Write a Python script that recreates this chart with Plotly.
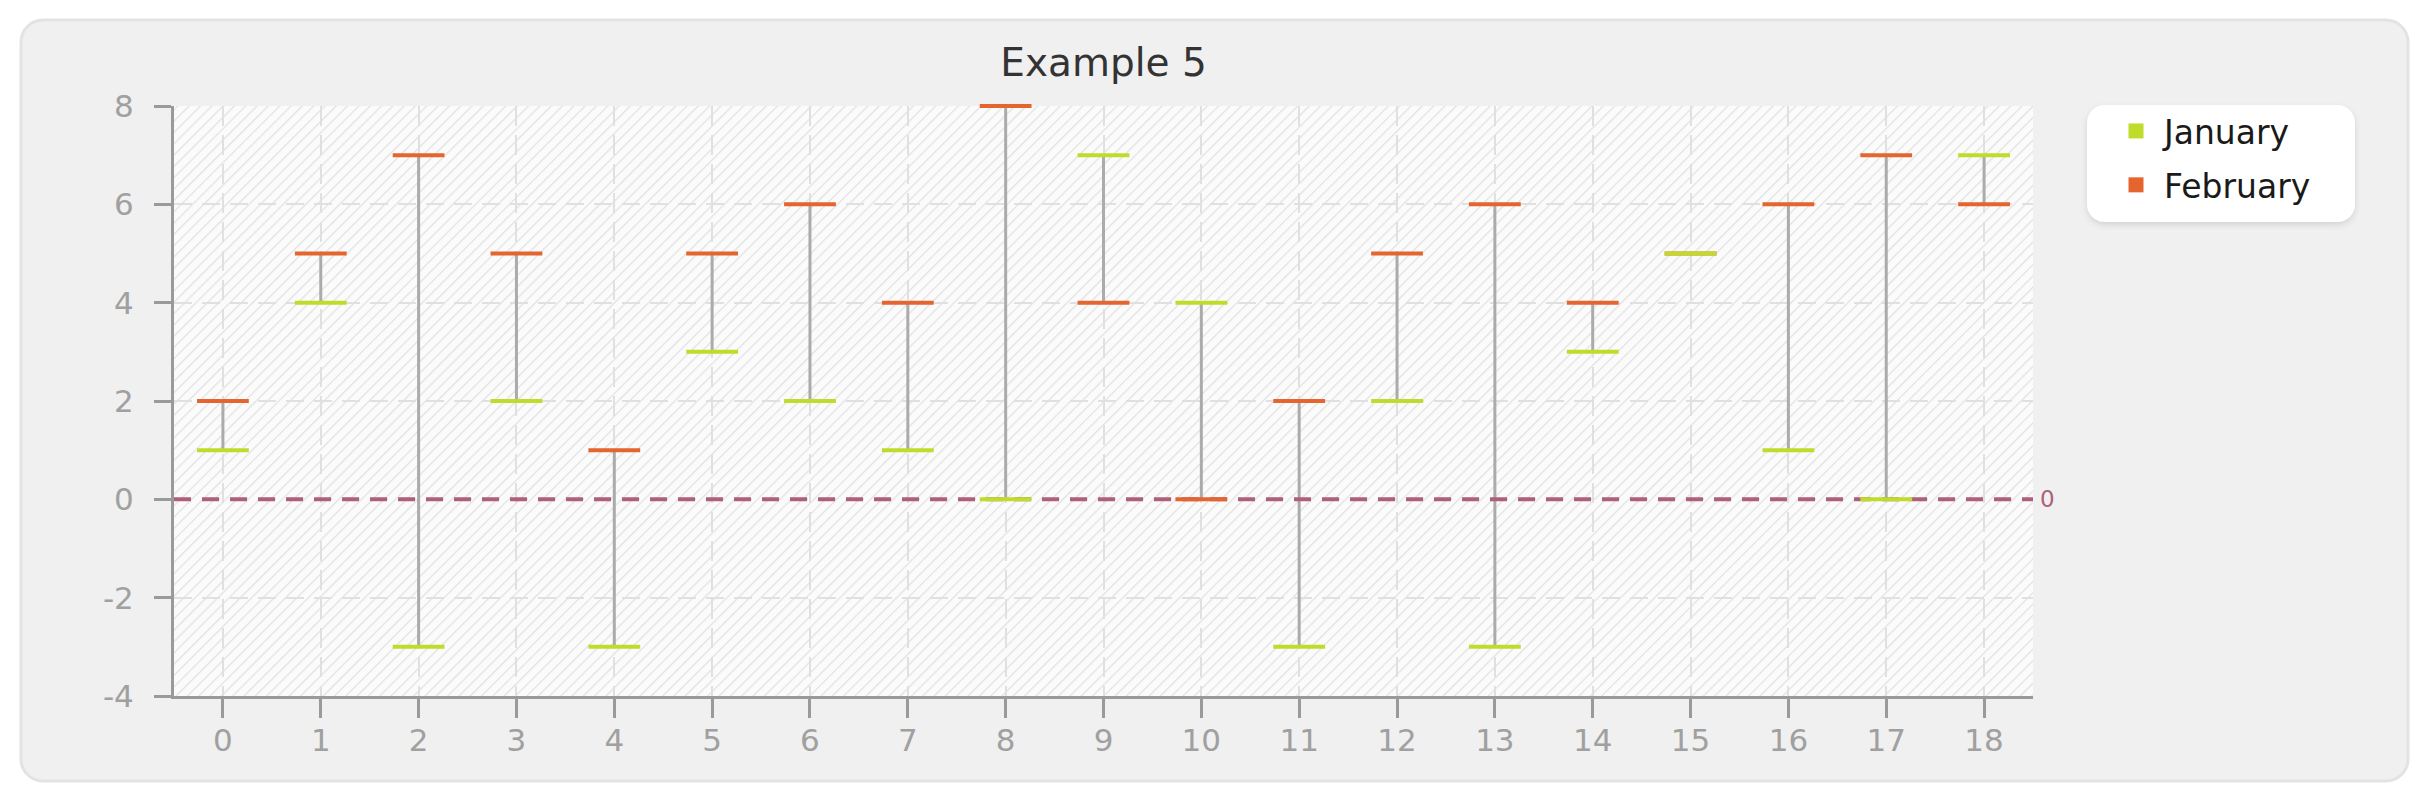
import base64
import plotly.graph_objects as go

# ---- data ----
categories = list(range(19))
january = [1, 4, -3, 2, -3, 3, 2, 1, 0, 7, 4, -3, 2, -3, 3, 5, 1, 0, 7]
february = [2, 5, 7, 5, 1, 5, 6, 4, 8, 4, 0, 2, 5, 6, 4, 5, 6, 7, 6]
series_names = ["January", "February"]
series_colors = ["#bfdc2a", "#e4652e"]
y_ticks = [-4, -2, 0, 2, 4, 6, 8]
x_range = [-0.5, 18.5]
y_range = [-4, 8]
reference_value = 0

# ---- layout geometry ----
W, H = 2435, 800
ML, MR, MT, MB = 174, 402, 106, 104
PW, PH = W - ML - MR, H - MT - MB

# background (card + hatched plot area + legend box) as an svg image
svg = f'''<svg xmlns="http://www.w3.org/2000/svg" width="{W}" height="{H}" viewBox="0 0 {W} {H}">
<defs>
<pattern id="h" width="8" height="8" patternUnits="userSpaceOnUse" patternTransform="rotate(45)">
<rect width="8" height="8" fill="#fbfbfb"/>
<line x1="0" y1="0" x2="0" y2="8" stroke="#e1e1e1" stroke-width="2.5"/>
</pattern>
<filter id="s" x="-10%" y="-20%" width="120%" height="150%">
<feDropShadow dx="0" dy="3" stdDeviation="3" flood-color="#000" flood-opacity="0.12"/>
</filter>
</defs>
<rect x="0" y="0" width="{W}" height="{H}" fill="#ffffff"/>
<rect x="21" y="20" width="2387" height="761" rx="22" ry="22" fill="#f0f0f0" stroke="#e3e3e3" stroke-width="3"/>
<rect x="{ML}" y="{MT}" width="{PW}" height="{PH}" fill="url(#h)"/>
<rect x="2087" y="105" width="268" height="117" rx="18" ry="18" fill="#ffffff" filter="url(#s)"/>
</svg>'''
svg_uri = "data:image/svg+xml;base64," + base64.b64encode(svg.encode()).decode()

fig = go.Figure()

# connectors between January and February values
cx, cy = [], []
for x, a, b in zip(categories, january, february):
    cx += [x, x, None]
    cy += [a, b, None]
fig.add_trace(go.Scatter(x=cx, y=cy, mode="lines",
                         line=dict(color="#ababab", width=3),
                         showlegend=False, hoverinfo="skip"))

# dashed reference line at zero
fig.add_trace(go.Scatter(x=x_range, y=[reference_value, reference_value], mode="lines",
                         line=dict(color="#ae6079", width=4, dash="17px,11px"),
                         showlegend=False, hoverinfo="skip", cliponaxis=False))

# caps: February first, January on top
for name, vals, col in [(series_names[1], february, series_colors[1]),
                        (series_names[0], january, series_colors[0])]:
    fig.add_trace(go.Scatter(x=categories, y=vals, mode="markers", name=name,
                             marker=dict(symbol="line-ew", size=37,
                                         line=dict(color=col, width=4)),
                             showlegend=False, cliponaxis=False))

# legend entries
for i, (name, col) in enumerate(zip(series_names, series_colors)):
    fig.add_trace(go.Scatter(x=[None], y=[None], mode="markers", name=name,
                             legendgroup=f"g{i}",
                             marker=dict(symbol="square", size=15, color=col)))

font_family = "DejaVu Sans"
tick_col = "#a0a0a0"

fig.update_layout(
    width=W, height=H,
    margin=dict(l=ML, r=MR, t=MT, b=MB, pad=0),
    paper_bgcolor="#ffffff",
    plot_bgcolor="rgba(0,0,0,0)",
    font=dict(family=font_family, size=30, color=tick_col),
    title=dict(text="Example 5", x=0.5, xref="paper", xanchor="center",
               y=1 - 62 / H, yref="container", yanchor="middle",
               font=dict(family=font_family, size=39, color="#333333")),
    showlegend=True,
    legend=dict(x=(2108 - ML) / PW, y=1 - (103 - MT) / PH, xanchor="left", yanchor="top",
                bgcolor="rgba(0,0,0,0)", borderwidth=0,
                font=dict(family=font_family, size=33, color="#1a1a1a"),
                itemwidth=46, tracegroupgap=8),
    images=[dict(source=svg_uri, xref="paper", yref="paper",
                 x=-ML / PW, y=1 + MT / PH, sizex=W / PW, sizey=H / PH,
                 xanchor="left", yanchor="top", sizing="stretch", layer="below")],
    xaxis=dict(range=x_range, tickmode="array", tickvals=categories,
               ticktext=[str(c) for c in categories],
               showline=True, linecolor="#9a9a9a", linewidth=3,
               ticks="outside", ticklen=19, tickwidth=3, tickcolor="#9a9a9a",
               showgrid=True, gridcolor="#e0e0e0", gridwidth=2, griddash="20px,9px",
               zeroline=False, tickfont=dict(size=31, color=tick_col),
               ticklabelstandoff=-4, fixedrange=True),
    yaxis=dict(range=y_range, tickmode="array", tickvals=y_ticks,
               ticktext=[str(v) for v in y_ticks],
               showline=True, linecolor="#9a9a9a", linewidth=3,
               ticks="outside", ticklen=17, tickwidth=3, tickcolor="#9a9a9a",
               showgrid=True, gridcolor="#e0e0e0", gridwidth=2, griddash="18px,10px",
               zeroline=False, tickfont=dict(size=31, color=tick_col),
               ticklabelstandoff=14, fixedrange=True),
    annotations=[dict(text=str(reference_value), xref="paper", x=1, yref="y", y=reference_value,
                      xanchor="left", yanchor="middle", xshift=5, showarrow=False,
                      font=dict(family=font_family, size=23, color="#ae6079"))],
)

fig.write_html("out.html")
